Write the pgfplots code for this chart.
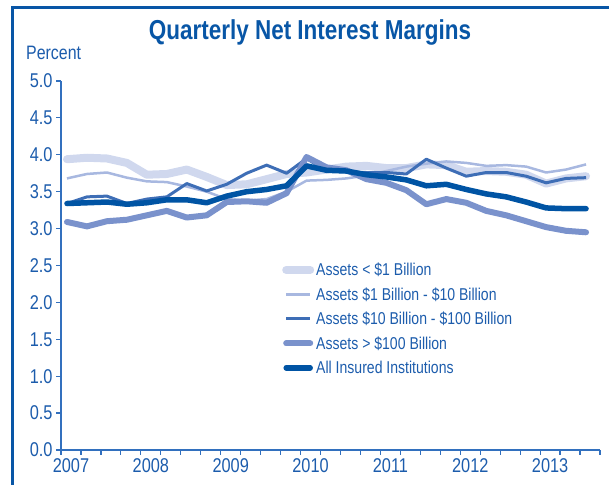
\documentclass[border=0pt]{standalone}
\usepackage{fontspec}
\setmainfont{Liberation Sans}[FakeStretch=0.82]
\usepackage{pgfplots}
\usepackage{pgfplotstable}
\pgfplotsset{compat=1.18}
\definecolor{ttl}{RGB}{8,86,166}
\definecolor{txt}{RGB}{28,92,172}
\definecolor{axc}{RGB}{50,112,190}
\definecolor{cA}{RGB}{208,216,238}
\definecolor{cB}{RGB}{168,184,224}
\definecolor{cC}{RGB}{62,110,182}
\definecolor{cD}{RGB}{122,146,204}
\definecolor{cE}{RGB}{0,84,164}
\pgfplotstableread{
x A B C D E
0.3 3.94 3.68 3.34 3.09 3.34
1.3 3.96 3.74 3.43 3.03 3.35
2.3 3.95 3.76 3.44 3.10 3.36
3.3 3.89 3.69 3.34 3.12 3.33
4.3 3.73 3.64 3.40 3.18 3.35
5.3 3.74 3.63 3.43 3.24 3.39
6.3 3.80 3.57 3.61 3.15 3.39
7.3 3.70 3.50 3.51 3.18 3.35
8.3 3.59 3.40 3.60 3.36 3.44
9.3 3.60 3.38 3.75 3.37 3.50
10.3 3.67 3.40 3.86 3.35 3.53
11.3 3.74 3.50 3.75 3.48 3.58
12.3 3.76 3.65 3.95 3.97 3.85
13.3 3.80 3.66 3.78 3.83 3.79
14.3 3.84 3.68 3.77 3.79 3.78
15.3 3.85 3.72 3.76 3.67 3.73
16.3 3.82 3.78 3.76 3.62 3.70
17.3 3.82 3.84 3.74 3.52 3.66
18.3 3.87 3.88 3.94 3.33 3.58
19.3 3.86 3.91 3.82 3.40 3.60
20.3 3.77 3.89 3.71 3.35 3.53
21.3 3.78 3.85 3.76 3.24 3.47
22.3 3.77 3.86 3.76 3.18 3.43
23.3 3.73 3.84 3.71 3.10 3.36
24.3 3.61 3.76 3.62 3.02 3.28
25.3 3.68 3.80 3.68 2.97 3.27
26.3 3.71 3.87 3.69 2.95 3.27
}\nim
\begin{document}
\begin{tikzpicture}[x=1bp,y=1bp]
\useasboundingbox (0,0) rectangle (609,485);
\draw[ttl, line width=3bp] (12,-5) -- (12,477) -- (615,477);
\node[anchor=center, text=ttl, font=\fontsize{27.5}{30}\selectfont\bfseries] at (310,453) {Quarterly Net Interest Margins};
\node[anchor=west, text=txt, font=\fontsize{19.5}{21}\selectfont, inner sep=0pt] at (26,432) {Percent};
\begin{axis}[
  at={(61bp,35bp)}, anchor=south west,
  scale only axis, width=539bp, height=369bp,
  xmin=0, xmax=27, ymin=0, ymax=5,
  axis x line=bottom, axis y line=left,
  axis line style={-, axc, line width=1.2bp},
  tick style={axc, line width=1.2bp},
  tick align=outside, major tick length=5bp,
  xtick={0,...,27},
  xticklabels={2007,,,,2008,,,,2009,,,,2010,,,,2011,,,,2012,,,,2013,,,,},
  xticklabel style={xshift=10bp, text=txt, font=\fontsize{20}{22}\selectfont},
  ytick={0,0.5,1,1.5,2,2.5,3,3.5,4,4.5,5},
  yticklabel style={text=txt, font=\fontsize{20}{22}\selectfont,
    /pgf/number format/fixed, /pgf/number format/fixed zerofill,
    /pgf/number format/precision=1, /pgf/number format/assume math mode=true},
  legend image code/.code={\draw[#1] (0bp,0bp) -- (24bp,0bp);},
  legend cell align=left,
  legend style={at={(0.41,0.513)}, anchor=north west, draw=none, fill=none,
    inner sep=0pt, row sep=6.3bp, text=txt, font=\fontsize{17.2}{19.5}\selectfont,
    nodes={inner sep=2bp}},
]
\addplot[cA, line width=8bp, line cap=round, line join=round] table[x=x,y=A] {\nim};
\addlegendentry{Assets < \$1 Billion}
\addplot[cB, line width=2.5bp, line join=round] table[x=x,y=B] {\nim};
\addlegendentry{Assets \$1 Billion - \$10 Billion}
\addplot[cC, line width=3bp, line join=round] table[x=x,y=C] {\nim};
\addlegendentry{Assets \$10 Billion - \$100 Billion}
\addplot[cD, line width=6bp, line cap=round, line join=round] table[x=x,y=D] {\nim};
\addlegendentry{Assets > \$100 Billion}
\addplot[cE, line width=5.5bp, line cap=round, line join=round] table[x=x,y=E] {\nim};
\addlegendentry{All Insured Institutions}
\end{axis}
\end{tikzpicture}
\end{document}
